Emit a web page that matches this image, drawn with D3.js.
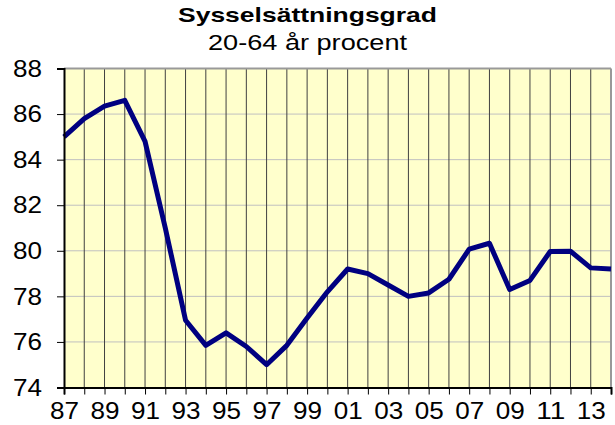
<!DOCTYPE html>
<html>
<head>
<meta charset="utf-8">
<script src="https://cdn.jsdelivr.net/npm/d3@7"></script>
<style>
  body { margin: 0; background: #fff; }
  text { font-family: "Liberation Sans", Arial, sans-serif; }
</style>
</head>
<body>
<div id="chart"></div>
<script>
// Data
const years = d3.range(1987, 2015);
const rate = [85.0, 85.8, 86.35, 86.6, 84.8, 81.0, 76.95, 75.85, 76.4, 75.8, 75.0, 75.85,
              77.05, 78.2, 79.2, 79.0, 78.5, 78.0, 78.15, 78.75, 80.07, 80.33, 78.3, 78.7,
              79.97, 79.98, 79.25, 79.2];
const yTicks = [74, 76, 78, 80, 82, 84, 86, 88];

const W = 615, H = 425;
const margin = { top: 68.5, right: 4, bottom: 37.5, left: 64 };
const width = W - margin.left - margin.right;
const height = H - margin.top - margin.bottom;

const x = d3.scaleLinear().domain([1987, 2014]).range([0, width]);
const y = d3.scaleLinear().domain([74, 88]).range([height, 0]);

const root = d3.select("#chart").append("svg")
  .attr("width", W)
  .attr("height", H);

// Titles
root.append("text")
  .attr("x", W / 2).attr("y", 22)
  .attr("text-anchor", "middle")
  .attr("font-size", 21).attr("font-weight", "bold")
  .attr("textLength", 259).attr("lengthAdjust", "spacingAndGlyphs")
  .text("Sysselsättningsgrad");

root.append("text")
  .attr("x", W / 2).attr("y", 50)
  .attr("text-anchor", "middle")
  .attr("font-size", 22)
  .attr("textLength", 199).attr("lengthAdjust", "spacingAndGlyphs")
  .text("20-64 år procent");

const svg = root.append("g")
  .attr("transform", `translate(${margin.left},${margin.top})`);

// plot background
svg.append("rect")
  .attr("width", width).attr("height", height)
  .attr("fill", "#ffffcc");

// horizontal gridlines
svg.append("g").selectAll("line")
  .data(yTicks.filter(d => d > 74 && d < 88))
  .join("line")
  .attr("x1", 0).attr("x2", width)
  .attr("y1", d => y(d)).attr("y2", d => y(d))
  .attr("stroke", "#c0c0c0").attr("stroke-width", 1);

// vertical gridlines
svg.append("g").selectAll("line")
  .data(years.slice(1, -1))
  .join("line")
  .attr("x1", d => x(d)).attr("x2", d => x(d))
  .attr("y1", 0).attr("y2", height)
  .attr("stroke", "#404040").attr("stroke-width", 1);

// top and right border
svg.append("line").attr("x1", 0).attr("x2", width).attr("y1", 0).attr("y2", 0)
  .attr("stroke", "#999").attr("stroke-width", 2);
svg.append("line").attr("x1", width).attr("x2", width).attr("y1", 0).attr("y2", height)
  .attr("stroke", "#999").attr("stroke-width", 2);

// the line
const line = d3.line()
  .x((d, i) => x(years[i]))
  .y(d => y(d));

svg.append("path")
  .datum(rate)
  .attr("fill", "none")
  .attr("stroke", "#000080")
  .attr("stroke-width", 5)
  .attr("stroke-linejoin", "round")
  .attr("d", line);

// axes
const xAxis = svg.append("g")
  .attr("transform", `translate(0,${height})`)
  .call(d3.axisBottom(x)
    .tickValues(years)
    .tickSize(7)
    .tickPadding(7)
    .tickFormat(d => d % 2 === 1 ? d3.format("02d")(d % 100) : ""));

const yAxis = svg.append("g")
  .call(d3.axisLeft(y)
    .tickValues(yTicks)
    .tickSize(7)
    .tickPadding(15));

[xAxis, yAxis].forEach(g => {
  g.select(".domain").attr("stroke", "#000").attr("stroke-width", 2);
  g.selectAll(".tick line").attr("stroke", "#000");
  g.selectAll(".tick text")
    .attr("fill", "#000")
    .style("font-family", "'Liberation Sans', Arial, sans-serif")
    .attr("font-size", 24);
});
g_fit(xAxis); g_fit(yAxis);

// labels in the reference are a bit wider than the font
function g_fit(g) {
  g.selectAll(".tick text")
    .filter(function() { return this.textContent !== ""; })
    .attr("textLength", 29)
    .attr("lengthAdjust", "spacingAndGlyphs");
}
</script>
</body>
</html>
